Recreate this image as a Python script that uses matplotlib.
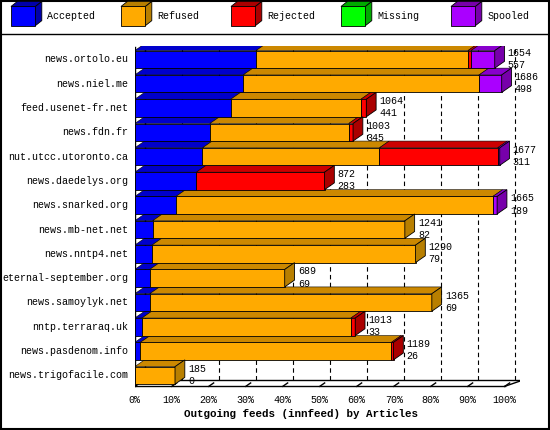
import matplotlib
matplotlib.use("Agg")
import matplotlib.pyplot as plt
from matplotlib.patches import Polygon, Rectangle

hosts = ["news.ortolo.eu","news.niel.me","feed.usenet-fr.net","news.fdn.fr","nut.utcc.utoronto.ca",
         "news.daedelys.org","news.snarked.org","news.mb-net.net","news.nntp4.net","eternal-september.org",
         "news.samoylyk.net","nntp.terraraq.uk","news.pasdenom.info","news.trigofacile.com"]
offered = [1654,1686,1064,1003,1677,872,1665,1241,1290,689,1365,1013,1189,185]
accepted = [557,498,441,345,311,283,189,82,79,69,69,33,26,0]
refused = [974,1084,598,638,813,0,1456,1159,1211,620,1296,960,1153,185]
rejected = [14,0,25,20,543,589,0,0,0,0,0,20,10,0]
missing = [0]*14
spooled = [109,104,0,0,10,0,20,0,0,0,0,0,0,0]
series = ["Accepted","Refused","Rejected","Missing","Spooled"]
front = ["#0000ff","#ffaa00","#ff0000","#00ff00","#aa00ff"]
side = ["#0000aa","#b87f00","#aa0000","#00aa00","#7700aa"]
top = ["#0000cc","#cc8800","#cc0000","#00cc00","#8800cc"]
ticks = [0,10,20,30,40,50,60,70,80,90,100]
XMAX = 1700

plt.rcParams['font.family'] = ['Liberation Mono', 'DejaVu Sans Mono']
FS = 7.2
fig = plt.figure(figsize=(5.5,4.3), dpi=100)
fig.patch.set_facecolor('white')
fig.add_artist(Rectangle((0.002,0.002),0.996,0.996,transform=fig.transFigure,fill=False,lw=1.5,ec='black'))
fig.add_artist(plt.Line2D([0,1],[0.92,0.92],transform=fig.transFigure,color='black',lw=1))

# legend
for i,(s,fc,sc) in enumerate(zip(series,front,side)):
    x0 = 0.02+i*0.2; y0 = 0.94; w=0.044; h=0.045; dx=0.012; dy=0.012
    fig.add_artist(Polygon([[x0+w,y0],[x0+w+dx,y0+dy],[x0+w+dx,y0+h+dy],[x0+w,y0+h]],closed=True,transform=fig.transFigure,fc=sc,ec='black',lw=0.6))
    fig.add_artist(Polygon([[x0,y0+h],[x0+dx,y0+h+dy],[x0+w+dx,y0+h+dy],[x0+w,y0+h]],closed=True,transform=fig.transFigure,fc=sc,ec='black',lw=0.6))
    fig.add_artist(Rectangle((x0,y0),w,h,transform=fig.transFigure,fc=fc,ec='black',lw=0.6))
    fig.text(x0+w+0.022,y0+h/2,s,fontsize=FS,va='center')

ax = fig.add_axes([0.245,0.093,0.70,0.80])
ax.set_xlim(0,1769)
ax.set_ylim(13.6,-0.55)
ax.axis('off')
DX = 45; DY = 0.28; H = 0.36
floor = 13.45
WALL = XMAX+DX+45
ax.plot([0,0],[floor,-0.5],color='black',lw=1)
ax.plot([DX,DX],[floor-DY,-0.5],color='black',lw=1)
ax.plot([0,DX],[floor,floor-DY],color='black',lw=1)
ax.plot([DX,WALL],[floor-DY,floor-DY],color='black',lw=1)
ax.plot([WALL,WALL],[floor-DY,-0.5],color='black',lw=1)
ax.plot([0,XMAX],[floor,floor],color='black',lw=1)
ax.plot([XMAX,WALL],[floor,floor-DY],color='black',lw=1)
ax.plot([-40,0],[floor+0.25,floor],color='black',lw=1)
for t in ticks:
    x = XMAX*t/100
    ax.plot([x+DX,x+DX],[floor-DY,-0.5],color='black',lw=0.8,ls=(0,(4,3)),zorder=1)
    ax.plot([x,x+DX*0.5],[floor,floor-DY*0.5],color='black',lw=1,zorder=1)
    ax.text(x,floor+0.35,f"{t}%",ha='center',va='top',fontsize=FS)
ax.text(XMAX*0.45,floor+0.95,"Outgoing feeds (innfeed) by Articles",ha='center',va='top',fontsize=FS+0.6,fontweight='bold')

data = [accepted,refused,rejected,missing,spooled]
for r,h in enumerate(hosts):
    ax.text(-30,r,h,ha='right',va='center',fontsize=FS)
    left = 0
    yb, yt = r+H, r-H
    segs = [(data[k][r],k) for k in range(5) if data[k][r]>0]
    for j,(v,k) in enumerate(segs):
        ax.add_patch(Rectangle((left,yt),v,2*H,fc=front[k],ec='black',lw=0.6,zorder=3))
        ax.add_patch(Polygon([[left,yt],[left+DX,yt-DY],[left+v+DX,yt-DY],[left+v,yt]],closed=True,fc=top[k],ec='black',lw=0.4,zorder=2))
        left += v
    k = segs[-1][1]
    ax.add_patch(Polygon([[left,yt],[left+DX,yt-DY],[left+DX,yb-DY],[left,yb]],closed=True,fc=side[k],ec='black',lw=0.6,zorder=3))
    ax.text(left+DX+15,r-0.28,str(offered[r]),fontsize=FS,va='center')
    ax.text(left+DX+15,r+0.22,str(accepted[r]),fontsize=FS,va='center')

fig.savefig("out.png",dpi=100)
